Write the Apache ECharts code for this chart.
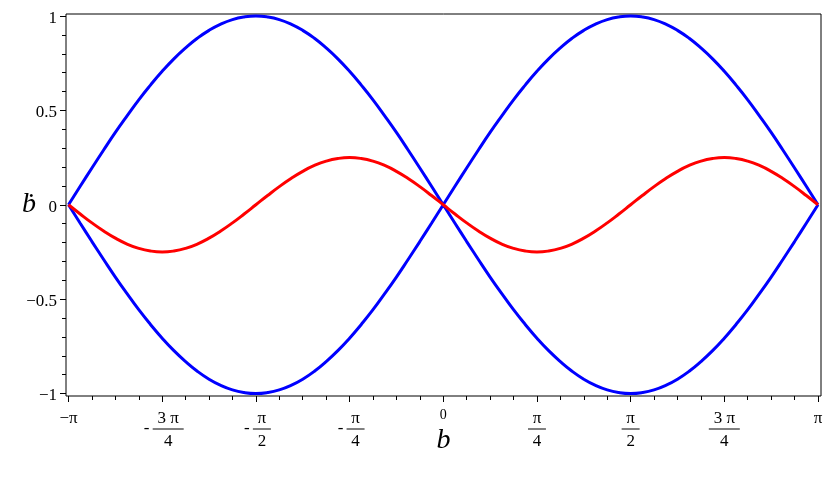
<!DOCTYPE html>
<html><head><meta charset="utf-8">
<script src="https://cdn.jsdelivr.net/npm/echarts@6/dist/echarts.min.js"></script>
<style>html,body{margin:0;padding:0;background:#fff}#c{width:830px;height:477px}</style>
</head><body><div id="c"></div>
<script>
// x positions in units of pi (step pi/32)
const xs = [-1, -0.96875, -0.9375, -0.90625, -0.875, -0.84375, -0.8125, -0.78125, -0.75, -0.71875, -0.6875, -0.65625, -0.625, -0.59375, -0.5625, -0.53125,
            -0.5, -0.46875, -0.4375, -0.40625, -0.375, -0.34375, -0.3125, -0.28125, -0.25, -0.21875, -0.1875, -0.15625, -0.125, -0.09375, -0.0625, -0.03125,
            0, 0.03125, 0.0625, 0.09375, 0.125, 0.15625, 0.1875, 0.21875, 0.25, 0.28125, 0.3125, 0.34375, 0.375, 0.40625, 0.4375, 0.46875,
            0.5, 0.53125, 0.5625, 0.59375, 0.625, 0.65625, 0.6875, 0.71875, 0.75, 0.78125, 0.8125, 0.84375, 0.875, 0.90625, 0.9375, 0.96875, 1];
const blueUpper = [0, 0.098, 0.195, 0.290, 0.383, 0.471, 0.556, 0.634, 0.707, 0.773, 0.831, 0.882, 0.924, 0.957, 0.981, 0.995,
                   1.000, 0.995, 0.981, 0.957, 0.924, 0.882, 0.831, 0.773, 0.707, 0.634, 0.556, 0.471, 0.383, 0.290, 0.195, 0.098,
                   0, 0.098, 0.195, 0.290, 0.383, 0.471, 0.556, 0.634, 0.707, 0.773, 0.831, 0.882, 0.924, 0.957, 0.981, 0.995,
                   1.000, 0.995, 0.981, 0.957, 0.924, 0.882, 0.831, 0.773, 0.707, 0.634, 0.556, 0.471, 0.383, 0.290, 0.195, 0.098, 0];
const blueLower = [0, -0.098, -0.195, -0.290, -0.383, -0.471, -0.556, -0.634, -0.707, -0.773, -0.831, -0.882, -0.924, -0.957, -0.981, -0.995,
                   -1.000, -0.995, -0.981, -0.957, -0.924, -0.882, -0.831, -0.773, -0.707, -0.634, -0.556, -0.471, -0.383, -0.290, -0.195, -0.098,
                   0, -0.098, -0.195, -0.290, -0.383, -0.471, -0.556, -0.634, -0.707, -0.773, -0.831, -0.882, -0.924, -0.957, -0.981, -0.995,
                   -1.000, -0.995, -0.981, -0.957, -0.924, -0.882, -0.831, -0.773, -0.707, -0.634, -0.556, -0.471, -0.383, -0.290, -0.195, -0.098, 0];
const redCurve = [0, -0.049, -0.096, -0.139, -0.177, -0.208, -0.231, -0.245, -0.250, -0.245, -0.231, -0.208, -0.177, -0.139, -0.096, -0.049,
                  0, 0.049, 0.096, 0.139, 0.177, 0.208, 0.231, 0.245, 0.250, 0.245, 0.231, 0.208, 0.177, 0.139, 0.096, 0.049,
                  0, -0.049, -0.096, -0.139, -0.177, -0.208, -0.231, -0.245, -0.250, -0.245, -0.231, -0.208, -0.177, -0.139, -0.096, -0.049,
                  0, 0.049, 0.096, 0.139, 0.177, 0.208, 0.231, 0.245, 0.250, 0.245, 0.231, 0.208, 0.177, 0.139, 0.096, 0.049, 0];

const xTickVals = [-1, -0.75, -0.5, -0.25, 0, 0.25, 0.5, 0.75, 1];
const xTickLabels = ['−π', '-3 π/4', '-π/2', '-π/4', '0', 'π/4', 'π/2', '3 π/4', 'π'];
const xMinorTicks = [-0.9375, -0.875, -0.8125, -0.6875, -0.625, -0.5625, -0.4375, -0.375, -0.3125, -0.1875, -0.125, -0.0625,
                     0.0625, 0.125, 0.1875, 0.3125, 0.375, 0.4375, 0.5625, 0.625, 0.6875, 0.8125, 0.875, 0.9375];
const yTickVals = [-1, -0.5, 0, 0.5, 1];
const yTickLabels = ['−1', '−0.5', '0', '0.5', '1'];
const yMinorTicks = [-0.9, -0.8, -0.7, -0.6, -0.4, -0.3, -0.2, -0.1, 0.1, 0.2, 0.3, 0.4, 0.6, 0.7, 0.8, 0.9];
const xName = 'b';
const yName = 'ḃ';

const serif = '"Liberation Serif","Times New Roman",serif';

function pts(vals, breakAt) {
  const out = [];
  xs.forEach((x, i) => {
    if (breakAt != null && i === breakAt) {
      out.push([x, vals[i]]);
      out.push([x, null]);
    }
    out.push([x, vals[i]]);
  });
  return out;
}

function xLabel(v) {
  let idx = xTickVals.findIndex(t => Math.abs(t - v) < 1e-6);
  if (idx < 0) return '';
  const s = xTickLabels[idx];
  if (s.indexOf('/') < 0) {
    return s === '0' ? '{z|0}' : '{s|' + s + '}';
  }
  const neg = s[0] === '-';
  const body = neg ? s.slice(1) : s;
  const parts = body.split('/');
  const k = parts[0].length > 1 ? '3' : '1';
  if (neg) {
    return '{sp| }{n' + k + '|' + parts[0] + '}\n{m|-}{b' + k + '| }\n{sp| }{d' + k + '|' + parts[1] + '}';
  }
  return '{n' + k + '|' + parts[0] + '}\n{b' + k + '| }\n{d' + k + '|' + parts[1] + '}';
}

function yLabel(v) {
  let idx = yTickVals.findIndex(t => Math.abs(t - v) < 1e-6);
  return idx < 0 ? '' : yTickLabels[idx];
}

const fs = 17;
const rich = {
  s: {fontFamily: serif, fontSize: fs, lineHeight: 14, align: 'center', color: '#000'},
  z: {fontFamily: serif, fontSize: 14, lineHeight: 6, align: 'center', color: '#000'},
  sp: {width: 12, lineHeight: 1, align: 'center'},
  m: {width: 12, fontFamily: serif, fontSize: fs, lineHeight: 6, align: 'center', color: '#000'},
  n1: {width: 18, fontFamily: serif, fontSize: fs, lineHeight: 14, align: 'center', color: '#000'},
  b1: {width: 18, height: 1, lineHeight: 6, backgroundColor: '#000', align: 'center', fontSize: 1},
  d1: {width: 18, fontFamily: serif, fontSize: fs, lineHeight: 20, align: 'center', color: '#000'},
  n3: {width: 31, fontFamily: serif, fontSize: fs, lineHeight: 14, align: 'center', color: '#000'},
  b3: {width: 31, height: 1, lineHeight: 6, backgroundColor: '#000', align: 'center', fontSize: 1},
  d3: {width: 31, fontFamily: serif, fontSize: fs, lineHeight: 20, align: 'center', color: '#000'}
};

const xMin = -1.00667, xMax = 1.008;
const yMin = -1.0132, yMax = 1.0106;

const chart = echarts.init(document.getElementById('c'), null, {renderer: 'canvas'});
chart.setOption({
  animation: false,
  backgroundColor: '#fff',
  grid: {left: 66, right: 9, top: 14, bottom: 81, show: true, borderColor: '#000', borderWidth: 1, backgroundColor: 'transparent'},
  xAxis: [
    {
      type: 'value', min: xMin, max: xMax, position: 'bottom',
      name: xName, nameLocation: 'middle', nameGap: 31, nameMoveOverlap: false,
      nameTextStyle: {fontFamily: serif, fontSize: 28, fontStyle: 'italic', color: '#000'},
      axisLine: {show: false, onZero: false},
      splitLine: {show: false},
      axisTick: {show: true, inside: false, length: 6, customValues: xTickVals, lineStyle: {color: '#000'}},
      axisLabel: {show: true, margin: 16, customValues: xTickVals, formatter: xLabel, rich: rich, color: '#000', verticalAlign: 'top', align: 'center'}
    },
    {
      type: 'value', min: xMin, max: xMax, position: 'bottom', offset: 0,
      axisLine: {show: false, onZero: false}, splitLine: {show: false},
      axisTick: {show: true, inside: false, length: 4, customValues: xMinorTicks, lineStyle: {color: '#000'}},
      axisLabel: {show: false}
    }
  ],
  yAxis: [
    {
      type: 'value', min: yMin, max: yMax, position: 'left',
      name: yName, nameLocation: 'middle', nameGap: 30, nameRotate: 0, nameMoveOverlap: false,
      nameTextStyle: {fontFamily: serif, fontSize: 28, fontStyle: 'italic', color: '#000'},
      axisLine: {show: false, onZero: false}, splitLine: {show: false},
      axisTick: {show: true, inside: false, length: 6, customValues: yTickVals, lineStyle: {color: '#000'}},
      axisLabel: {show: true, margin: 9, customValues: yTickVals, formatter: yLabel, fontFamily: serif, fontSize: 17, color: '#000', verticalAlign: 'top', lineHeight: 5}
    },
    {
      type: 'value', min: yMin, max: yMax, position: 'left', offset: 0,
      axisLine: {show: false, onZero: false}, splitLine: {show: false},
      axisTick: {show: true, inside: false, length: 4, customValues: yMinorTicks, lineStyle: {color: '#000'}},
      axisLabel: {show: false}
    }
  ],
  series: [
    {type: 'line', data: pts(blueUpper, 32), showSymbol: false, smooth: true, connectNulls: false,
     lineStyle: {color: '#0000ff', width: 3}, itemStyle: {color: '#0000ff'}},
    {type: 'line', data: pts(blueLower, 32), showSymbol: false, smooth: true, connectNulls: false,
     lineStyle: {color: '#0000ff', width: 3}, itemStyle: {color: '#0000ff'}},
    {type: 'line', data: pts(redCurve), showSymbol: false, smooth: true,
     lineStyle: {color: '#ff0000', width: 3}, itemStyle: {color: '#ff0000'}}
  ]
});
</script></body></html>
